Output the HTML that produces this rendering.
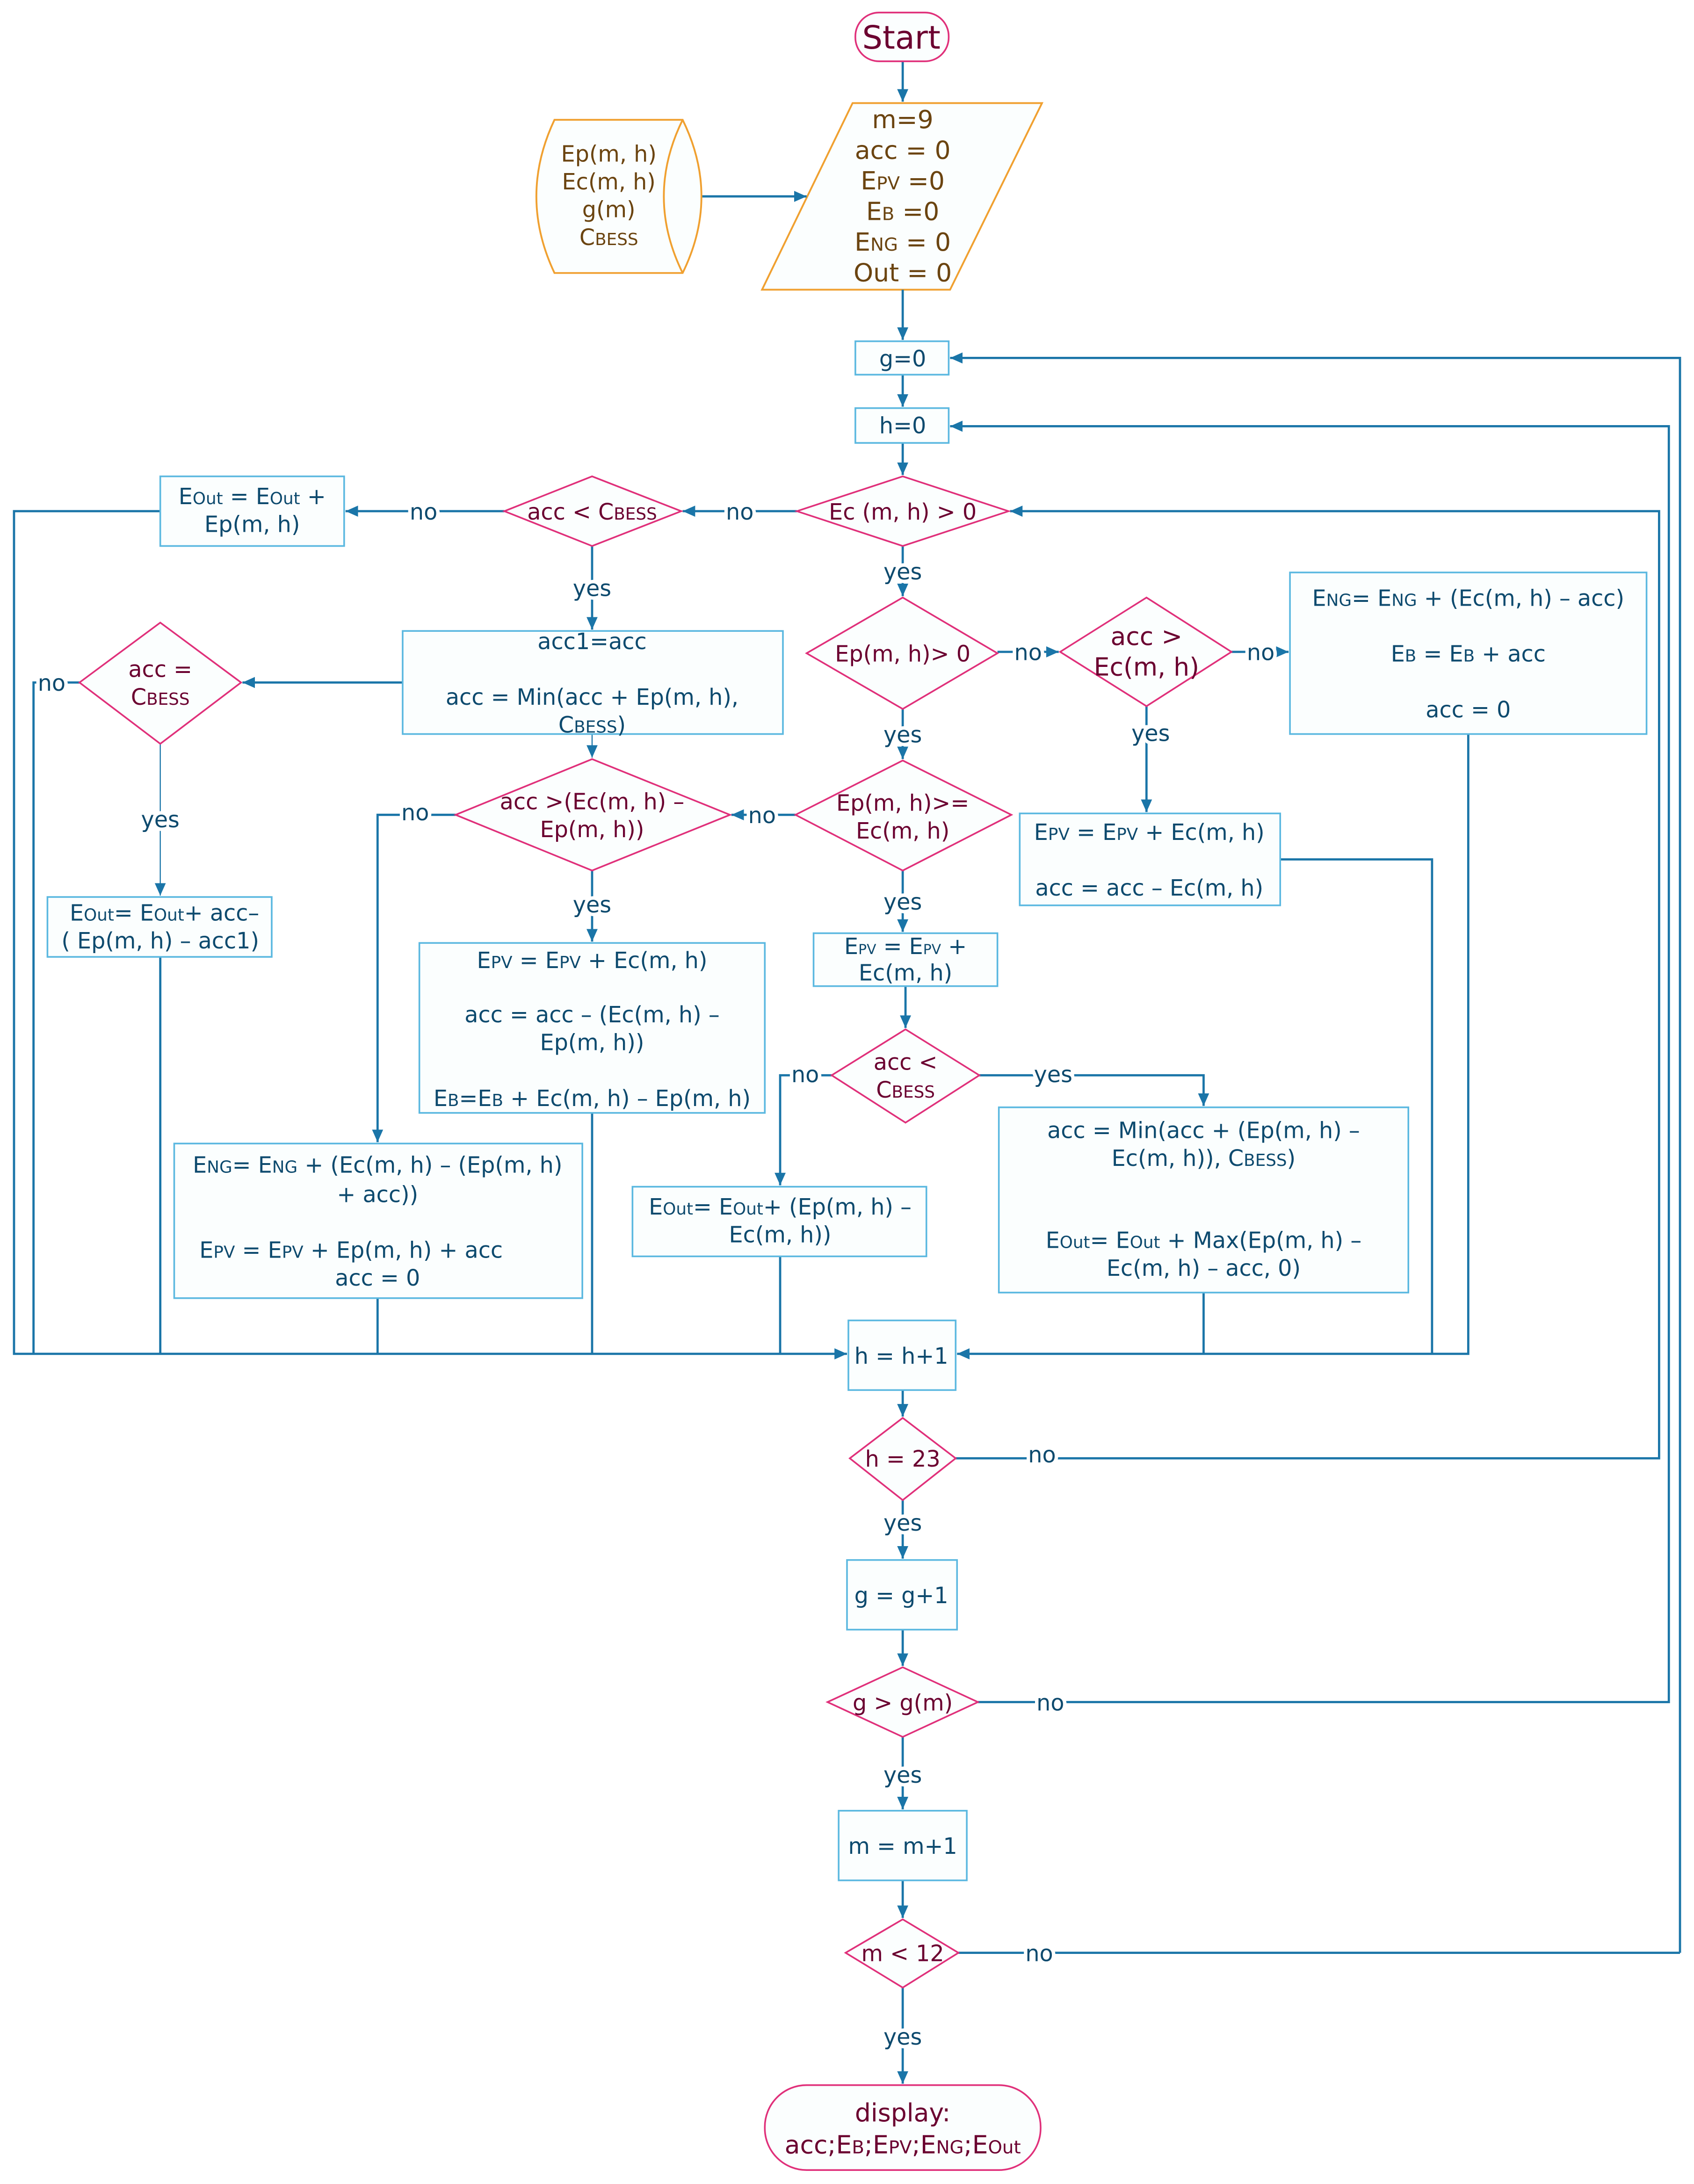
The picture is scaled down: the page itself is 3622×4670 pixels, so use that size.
<!DOCTYPE html>
<html><head><meta charset="utf-8"><style>
html,body{margin:0;padding:0;background:#fff}
svg{display:block}
text{font-family:"DejaVu Sans","Liberation Sans",sans-serif}
.b{fill:#fbfefe;stroke:#5bb8e0;stroke-width:1.2}
.d{fill:#fbfefe;stroke:#e0307a;stroke-width:1.2}
.o{fill:#fbfefe;stroke:#f0a030;stroke-width:1.3}
.l{fill:none;stroke:#1a75a8;stroke-width:1.6}
.t{fill:#0d4a6e;font-size:16px;text-anchor:middle}
.m{fill:#6b0030;font-size:16px;text-anchor:middle}
.w{fill:#6b4410;font-size:18px;text-anchor:middle}
.lb{fill:#0d4a6e;font-size:16px;text-anchor:middle;stroke:#fff;stroke-width:5;paint-order:stroke}
</style></head><body>
<svg width="3622" height="4670" viewBox="0 0 1216 1568" xmlns="http://www.w3.org/2000/svg">
<defs><marker id="a" markerUnits="userSpaceOnUse" markerWidth="10" markerHeight="10" refX="9" refY="5" orient="auto"><path d="M0,1 L9,5 L0,9 z" fill="#1a75a8"/></marker></defs>

<!-- init parallelogram (drawn first so arrow shows) -->
<polygon points="612,74 748,74 682,208 547,208" class="o"/>

<!-- connectors -->
<g class="l" marker-end="url(#a)">
<path d="M648,44 V73"/>
<path d="M503,141 H579"/>
<path d="M648,208 V244"/>
<path d="M648,269 V292"/>
<path d="M648,318 V341"/>
<path d="M1206,1402 H688"  marker-end="none"/>
<path d="M1206,1402 V257 H682"/>
<path d="M702,1222 H1198 V306 H682"/>
<path d="M686,1047 H1191 V367 H725"/>
<path d="M572,367 H490"/>
<path d="M362,367 H248"/>
<path d="M115,367 H10 V972 H608"/>
<path d="M425,392 V452"/>
<path d="M289,490 H174"/>
<path d="M57,490 H24 V972" marker-end="none"/>
<path d="M115,534 V643" style="stroke-width:0.8"/>
<path d="M115,687 V972" marker-end="none"/>
<path d="M425,527 V544" style="stroke-width:0.8"/>
<path d="M327,585 H271 V820"/>
<path d="M271,932 V972" marker-end="none"/>
<path d="M425,625 V676"/>
<path d="M425,799 V972" marker-end="none"/>
<path d="M648,392 V428"/>
<path d="M716,468 H760"/>
<path d="M884,468 H925"/>
<path d="M1054,527 V972 H687"/>
<path d="M823,507 V583"/>
<path d="M919,617 H1028 V972" marker-end="none"/>
<path d="M648,509 V545"/>
<path d="M571,585 H525"/>
<path d="M648,625 V669"/>
<path d="M650,708 V738"/>
<path d="M597,772 H560 V851"/>
<path d="M560,902 V972" marker-end="none"/>
<path d="M703,772 H864 V794"/>
<path d="M864,928 V972" marker-end="none"/>
<path d="M648,998 V1017"/>
<path d="M648,1077 V1119"/>
<path d="M648,1170 V1196"/>
<path d="M648,1247 V1299"/>
<path d="M648,1350 V1377"/>
<path d="M648,1427 V1496"/>
</g>

<!-- labels on lines -->
<text class="lb" x="531" y="373">no</text>
<text class="lb" x="304" y="373">no</text>
<text class="lb" x="425" y="428">yes</text>
<text class="lb" x="37" y="496">no</text>
<text class="lb" x="115" y="594">yes</text>
<text class="lb" x="298" y="589">no</text>
<text class="lb" x="425" y="655">yes</text>
<text class="lb" x="648" y="416">yes</text>
<text class="lb" x="738" y="474">no</text>
<text class="lb" x="905" y="474">no</text>
<text class="lb" x="826" y="532">yes</text>
<text class="lb" x="648" y="533">yes</text>
<text class="lb" x="547" y="591">no</text>
<text class="lb" x="648" y="653">yes</text>
<text class="lb" x="578" y="777">no</text>
<text class="lb" x="756" y="777">yes</text>
<text class="lb" x="748" y="1050">no</text>
<text class="lb" x="648" y="1099">yes</text>
<text class="lb" x="754" y="1228">no</text>
<text class="lb" x="648" y="1280">yes</text>
<text class="lb" x="746" y="1408">no</text>
<text class="lb" x="648" y="1468">yes</text>

<!-- Start -->
<rect x="614" y="9" width="67" height="35" rx="17" class="d"/>
<text class="m" x="647" y="35" style="font-size:23px">Start</text>

<text class="w" x="648" y="92">m=9</text>
<text class="w" x="648" y="114">acc = 0</text>
<text class="w" x="648" y="136">E<tspan font-size="13">PV</tspan> =0</text>
<text class="w" x="648" y="158">E<tspan font-size="13">B</tspan> =0</text>
<text class="w" x="648" y="180">E<tspan font-size="13">NG</tspan> = 0</text>
<text class="w" x="648" y="202">Out = 0</text>

<!-- stored data -->
<path d="M398,86 H490 Q517,141 490,196 H398 Q372,141 398,86 z" class="o"/>
<path d="M490,86 Q463,141 490,196" class="o" fill="none"/>
<g class="w" style="font-size:16px">
<text x="437" y="116">Ep(m, h)</text>
<text x="437" y="136">Ec(m, h)</text>
<text x="437" y="156">g(m)</text>
<text x="437" y="176">C<tspan font-size="12">BESS</tspan></text>
</g>

<!-- g=0, h=0 -->
<rect x="614" y="245" width="67" height="24" class="b"/>
<text class="t" x="648" y="263">g=0</text>
<rect x="614" y="293" width="67" height="25" class="b"/>
<text class="t" x="648" y="311">h=0</text>

<!-- diamonds -->
<polygon points="572,367 648,342 724,367 648,392" class="d"/>
<text class="m" x="648" y="373">Ec (m, h) &gt; 0</text>
<polygon points="362,367 425,342 489,367 425,392" class="d"/>
<text class="m" x="425" y="373">acc &lt; C<tspan font-size="12">BESS</tspan></text>
<polygon points="57,490 115,447 173,490 115,534" class="d"/>
<text class="m" x="115" y="486">acc =</text>
<text class="m" x="115" y="506">C<tspan font-size="12">BESS</tspan></text>
<polygon points="327,585 425,545 524,585 425,625" class="d"/>
<text class="m" x="425" y="581">acc &gt;(Ec(m, h) –</text>
<text class="m" x="425" y="601">Ep(m, h))</text>
<polygon points="579,469 648,429 716,469 648,509" class="d"/>
<text class="m" x="648" y="475">Ep(m, h)&gt; 0</text>
<polygon points="761,468 823,429 884,468 823,507" class="d"/>
<text class="m" x="823" y="463" style="font-size:18px">acc &gt;</text>
<text class="m" x="823" y="485" style="font-size:18px">Ec(m, h)</text>
<polygon points="571,585 648,546 726,585 648,625" class="d"/>
<text class="m" x="648" y="582">Ep(m, h)&gt;=</text>
<text class="m" x="648" y="602">Ec(m, h)</text>
<polygon points="597,772 650,739 703,772 650,806" class="d"/>
<text class="m" x="650" y="768">acc &lt;</text>
<text class="m" x="650" y="788">C<tspan font-size="12">BESS</tspan></text>
<polygon points="610,1047 648,1018 686,1047 648,1077" class="d"/>
<text class="m" x="648" y="1053">h = 23</text>
<polygon points="594,1222 648,1197 702,1222 648,1247" class="d"/>
<text class="m" x="648" y="1228">g &gt; g(m)</text>
<polygon points="607,1402 648,1378 688,1402 648,1427" class="d"/>
<text class="m" x="648" y="1408">m &lt; 12</text>

<!-- boxes -->
<rect x="115" y="342" width="132" height="50" class="b"/>
<text class="t" x="181" y="362">E<tspan font-size="12">Out</tspan> = E<tspan font-size="12">Out</tspan> +</text>
<text class="t" x="181" y="382">Ep(m, h)</text>

<rect x="289" y="453" width="273" height="74" class="b"/>
<text class="t" x="425" y="466">acc1=acc</text>
<text class="t" x="425" y="506">acc = Min(acc + Ep(m, h),</text>
<text class="t" x="425" y="526">C<tspan font-size="12">BESS</tspan>)</text>

<rect x="34" y="644" width="161" height="43" class="b"/>
<text class="t" x="118" y="661">E<tspan font-size="12">Out</tspan>= E<tspan font-size="12">Out</tspan>+ acc–</text>
<text class="t" x="115" y="681">( Ep(m, h) – acc1)</text>

<rect x="125" y="821" width="293" height="111" class="b"/>
<text class="t" x="271" y="842">E<tspan font-size="12">NG</tspan>= E<tspan font-size="12">NG</tspan> + (Ec(m, h) – (Ep(m, h)</text>
<text class="t" x="271" y="863">+ acc))</text>
<text class="t" x="252" y="903">E<tspan font-size="12">PV</tspan> = E<tspan font-size="12">PV</tspan> + Ep(m, h) + acc</text>
<text class="t" x="271" y="923">acc = 0</text>

<rect x="301" y="677" width="248" height="122" class="b"/>
<text class="t" x="425" y="695">E<tspan font-size="12">PV</tspan> = E<tspan font-size="12">PV</tspan> + Ec(m, h)</text>
<text class="t" x="425" y="734">acc = acc – (Ec(m, h) –</text>
<text class="t" x="425" y="754">Ep(m, h))</text>
<text class="t" x="425" y="794">E<tspan font-size="12">B</tspan>=E<tspan font-size="12">B</tspan> + Ec(m, h) – Ep(m, h)</text>

<rect x="926" y="411" width="256" height="116" class="b"/>
<text class="t" x="1054" y="435">E<tspan font-size="12">NG</tspan>= E<tspan font-size="12">NG</tspan> + (Ec(m, h) – acc)</text>
<text class="t" x="1054" y="475">E<tspan font-size="12">B</tspan> = E<tspan font-size="12">B</tspan> + acc</text>
<text class="t" x="1054" y="515">acc = 0</text>

<rect x="732" y="584" width="187" height="66" class="b"/>
<text class="t" x="825" y="603">E<tspan font-size="12">PV</tspan> = E<tspan font-size="12">PV</tspan> + Ec(m, h)</text>
<text class="t" x="825" y="643">acc = acc – Ec(m, h)</text>

<rect x="584" y="670" width="132" height="38" class="b"/>
<text class="t" x="650" y="685">E<tspan font-size="10">PV</tspan> = E<tspan font-size="10">PV</tspan>  +</text>
<text class="t" x="650" y="704">Ec(m, h)</text>

<rect x="454" y="852" width="211" height="50" class="b"/>
<text class="t" x="560" y="872">E<tspan font-size="12">Out</tspan>= E<tspan font-size="12">Out</tspan>+ (Ep(m, h) –</text>
<text class="t" x="560" y="892">Ec(m, h))</text>

<rect x="717" y="795" width="294" height="133" class="b"/>
<text class="t" x="864" y="817">acc = Min(acc + (Ep(m, h) –</text>
<text class="t" x="864" y="837">Ec(m, h)), C<tspan font-size="12">BESS</tspan>)</text>
<text class="t" x="864" y="896">E<tspan font-size="12">Out</tspan>= E<tspan font-size="12">Out</tspan> + Max(Ep(m, h) –</text>
<text class="t" x="864" y="916">Ec(m, h) – acc, 0)</text>

<rect x="609" y="948" width="77" height="50" class="b"/>
<text class="t" x="647" y="979">h = h+1</text>

<rect x="608" y="1120" width="79" height="50" class="b"/>
<text class="t" x="647" y="1151">g = g+1</text>

<rect x="602" y="1300" width="92" height="50" class="b"/>
<text class="t" x="648" y="1331">m = m+1</text>

<!-- end -->
<rect x="549" y="1497" width="198" height="61" rx="30" class="d"/>
<text class="m" x="648" y="1523" style="font-size:18px">display:</text>
<text class="m" x="648" y="1546" style="font-size:18px">acc;E<tspan font-size="13">B</tspan>;E<tspan font-size="13">PV</tspan>;E<tspan font-size="13">NG</tspan>;E<tspan font-size="13">Out</tspan></text>
</svg>
</body></html>
